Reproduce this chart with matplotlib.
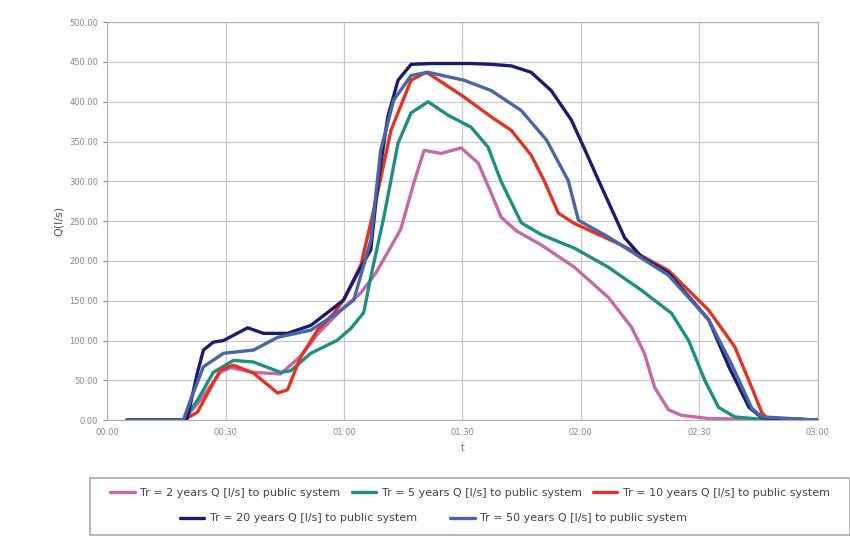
import matplotlib
matplotlib.use('Agg')
import matplotlib.pyplot as plt
from matplotlib.ticker import FuncFormatter, MultipleLocator
from matplotlib.patches import Rectangle

# time in minutes, Q in l/s
t_tr2 = [5, 19.3, 23.6, 28.7, 31.2, 37.1, 43.9, 49.0, 53.3, 59.2, 64.3, 68.1, 71.9, 74.4, 77.7,
         80.3, 84.6, 89.7, 94.0, 97.3, 99.8, 103.6, 110.0, 118.4, 127.0, 132.8, 136.1, 138.7,
         142.2, 145.5, 152.4, 180]
q_tr2 = [0, 0, 25, 60, 66, 60, 58, 80, 108, 138, 160, 185, 218, 240, 298,
         339, 335, 342, 323, 285, 255, 238, 220, 192, 154, 117, 84, 41,
         13, 6, 2, 0]

t_tr5 = [5, 19.3, 22.9, 26.9, 32.0, 37.1, 43.9, 46.5, 51.6, 58.2, 61.7, 65.0, 66.8, 70.1, 73.7,
         77.0, 81.3, 86.4, 92.2, 96.5, 99.8, 104.9, 110.0, 118.4, 127.0, 135.4, 143.0, 147.3,
         151.4, 154.9, 159.0, 165.9, 180]
q_tr5 = [0, 0, 25, 60, 75, 73, 60, 62, 84, 100, 115, 135, 180, 255, 348,
         386, 400, 383, 368, 343, 300, 248, 233, 216, 192, 163, 134, 100,
         50, 16, 4, 1, 0]

t_tr10 = [5, 19.3, 22.9, 28.7, 32.0, 37.1, 43.2, 45.7, 49.0, 53.3, 57.4, 59.9, 64.3, 68.1, 71.9,
          77.0, 80.8, 82.8, 90.4, 97.3, 102.4, 107.4, 110.7, 114.3, 118.4, 130.3, 142.2, 152.4,
          159.0, 163.3, 165.9, 167.1, 180]
q_tr10 = [0, 0, 10, 63, 69, 59, 34, 38, 79, 113, 134, 151, 195, 276, 364,
          427, 437, 431, 406, 381, 364, 333, 301, 260, 247, 220, 188, 138,
          92, 41, 9, 3, 0]

t_tr20 = [5, 19.3, 20.3, 22.9, 24.4, 26.9, 29.5, 35.6, 39.6, 45.7, 51.6, 56.6, 59.9, 63.5, 66.8,
          68.6, 71.1, 73.7, 77.0, 82.0, 92.2, 97.3, 102.4, 107.4, 112.5, 117.6, 121.0, 124.5,
          127.8, 131.1, 135.4, 142.2, 152.4, 157.5, 162.6, 165.9, 180]
q_tr20 = [0, 0, 2, 60, 88, 98, 100, 116, 109, 109, 119, 138, 151, 185, 214,
          298, 381, 427, 447, 448, 448, 447, 445, 437, 414, 377, 340, 301,
          265, 229, 205, 185, 126, 67, 16, 3, 0]

t_tr50 = [5, 19.3, 21.1, 24.4, 29.5, 37.1, 43.2, 51.6, 58.2, 62.5, 66.8, 69.3, 72.6, 77.0, 81.3,
          90.4, 97.3, 104.9, 111.3, 116.8, 119.4, 127.0, 142.2, 152.4, 158.2, 163.3, 165.9, 180]
q_tr50 = [0, 0, 25, 67, 84, 88, 104, 113, 134, 151, 226, 339, 402, 433, 437,
          427, 414, 389, 352, 301, 251, 230, 182, 126, 70, 15, 4, 0]

series = [
    (t_tr2, q_tr2, '#c46aa8', 'Tr = 2 years Q [l/s] to public system'),
    (t_tr5, q_tr5, '#1e9080', 'Tr = 5 years Q [l/s] to public system'),
    (t_tr10, q_tr10, '#e2341f', 'Tr = 10 years Q [l/s] to public system'),
    (t_tr20, q_tr20, '#1c1c6c', 'Tr = 20 years Q [l/s] to public system'),
    (t_tr50, q_tr50, '#4866a8', 'Tr = 50 years Q [l/s] to public system'),
]

fig = plt.figure(figsize=(8.5, 5.4), dpi=100)
ax = fig.add_axes([0.126, 0.222, 0.836, 0.737])

handles = []
for t, q, c, lab in series:
    h, = ax.plot(t, q, color=c, lw=2.4, label=lab, solid_capstyle='round', solid_joinstyle='round')
    handles.append(h)

ax.set_xlim(0, 180)
ax.set_ylim(0, 500)
ax.xaxis.set_major_locator(MultipleLocator(30))
ax.yaxis.set_major_locator(MultipleLocator(50))
ax.xaxis.set_major_formatter(FuncFormatter(lambda v, p: '%02d:%02d' % (int(v) // 60, int(v) % 60)))
ax.yaxis.set_major_formatter(FuncFormatter(lambda v, p: '%.2f' % v))
ax.grid(True, color='#c8c8c8', lw=0.9)
ax.set_axisbelow(True)
for s in ax.spines.values():
    s.set_color('#b0b0b0')
ax.tick_params(colors='#888888', labelsize=6, length=3)
ax.tick_params(axis='x', length=0, pad=6)
ax.set_xlabel('t', fontsize=7, color='#777777')
ax.set_ylabel('Q(l/s)', fontsize=8, color='#555555')

# legend box with two centred rows
fig.add_artist(Rectangle((0.106, 0.01), 0.894, 0.105, transform=fig.transFigure,
                         fill=False, edgecolor='#aaaaaa', lw=1.2))
fig.legend(handles=handles[:3], loc='center', bbox_to_anchor=(0.553, 0.087), ncol=3,
           frameon=False, fontsize=8, handlelength=2.2, columnspacing=1.0,
           handletextpad=0.5, labelcolor='#444444')
fig.legend(handles=handles[3:], loc='center', bbox_to_anchor=(0.51, 0.04), ncol=2,
           frameon=False, fontsize=8, handlelength=2.2, columnspacing=3.0,
           handletextpad=0.5, labelcolor='#444444')

fig.savefig('out.png', dpi=100)
